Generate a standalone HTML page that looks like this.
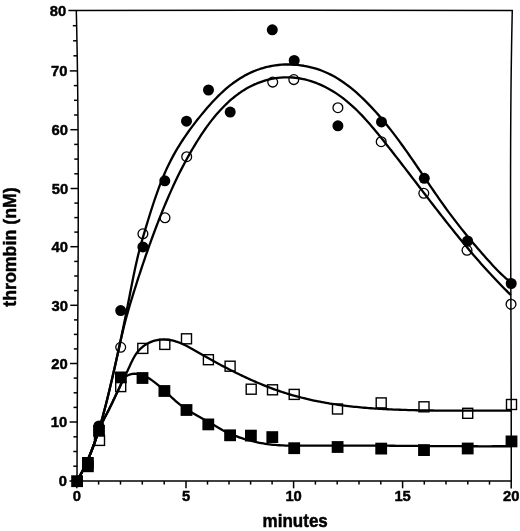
<!DOCTYPE html>
<html><head><meta charset="utf-8"><title>thrombin</title>
<style>html,body{margin:0;padding:0;background:#fff}body{width:520px;height:531px;overflow:hidden}svg{display:block;will-change:transform}text{font-family:"Liberation Sans",sans-serif;font-weight:bold;fill:#000}</style>
</head><body>
<svg width="520" height="531" viewBox="0 0 520 531">
<rect width="520" height="531" fill="#fff"/>
<g stroke="#000" stroke-width="1.5" fill="none" stroke-linecap="butt">
<path d="M68.4,10.5 L300,10.3 L512.9,10.6"/>
<path d="M512.30,9.90 L512.03,22.17 L511.79,34.44 L511.57,46.71 L511.38,58.98 L511.21,71.25 L511.06,83.52 L510.94,95.79 L510.84,108.06 L510.75,120.33 L510.69,132.61 L510.63,144.88 L510.60,157.15 L510.58,169.42 L510.57,181.69 L510.57,193.97 L510.58,206.24 L510.60,218.51 L510.63,230.78 L510.67,243.06 L510.71,255.33 L510.75,267.60 L510.79,279.87 L510.84,292.15 L510.89,304.42 L510.94,316.69 L510.98,328.96 L511.03,341.24 L511.07,353.51 L511.11,365.78 L511.15,378.05 L511.18,390.32 L511.20,402.60 L511.23,414.87 L511.24,427.14 L511.25,439.41 L511.25,451.68 L511.24,463.96 L511.23,476.23 L511.20,488.50"/>
<path d="M76.30,10.60 L76.58,22.68 L76.83,34.76 L77.06,46.83 L77.27,58.91 L77.45,70.99 L77.61,83.07 L77.75,95.15 L77.87,107.23 L77.98,119.31 L78.06,131.38 L78.13,143.46 L78.18,155.54 L78.22,167.62 L78.25,179.70 L78.26,191.78 L78.26,203.86 L78.24,215.94 L78.22,228.02 L78.19,240.10 L78.15,252.18 L78.10,264.26 L78.05,276.34 L77.99,288.42 L77.92,300.50 L77.85,312.58 L77.78,324.66 L77.71,336.74 L77.63,348.82 L77.56,360.90 L77.48,372.98 L77.41,385.06 L77.34,397.14 L77.27,409.22 L77.21,421.30 L77.15,433.38 L77.10,445.46 L77.06,457.54 L77.03,469.62 L77.00,481.70"/>
<path d="M69.5,481 L511.8,481"/>
<path d="M69.6,422.0 L77.2,422.0"/>
<path d="M70.0,363.5 L77.6,363.5"/>
<path d="M70.3,305.3 L77.9,305.3"/>
<path d="M70.4,246.7 L78.0,246.7"/>
<path d="M70.6,188.5 L78.2,188.5"/>
<path d="M70.4,129.7 L78.0,129.7"/>
<path d="M69.8,70.9 L77.4,70.9"/>
<path d="M73.3,466.2 L77.1,466.2"/>
<path d="M73.3,451.5 L77.1,451.5"/>
<path d="M73.4,436.8 L77.2,436.8"/>
<path d="M73.5,407.4 L77.3,407.4"/>
<path d="M73.6,392.8 L77.4,392.8"/>
<path d="M73.7,378.1 L77.5,378.1"/>
<path d="M73.9,348.9 L77.7,348.9"/>
<path d="M73.9,334.4 L77.7,334.4"/>
<path d="M74.0,319.9 L77.8,319.9"/>
<path d="M74.1,290.6 L77.9,290.6"/>
<path d="M74.2,276.0 L78.0,276.0"/>
<path d="M74.2,261.4 L78.0,261.4"/>
<path d="M74.3,232.1 L78.1,232.1"/>
<path d="M74.3,217.6 L78.1,217.6"/>
<path d="M74.4,203.1 L78.2,203.1"/>
<path d="M74.3,173.8 L78.1,173.8"/>
<path d="M74.3,159.1 L78.1,159.1"/>
<path d="M74.2,144.4 L78.0,144.4"/>
<path d="M74.1,115.0 L77.9,115.0"/>
<path d="M74.0,100.3 L77.8,100.3"/>
<path d="M73.8,85.6 L77.6,85.6"/>
<path d="M73.4,55.8 L77.2,55.8"/>
<path d="M73.1,40.8 L76.9,40.8"/>
<path d="M72.8,25.7 L76.6,25.7"/>
<path d="M76.8,481 L76.8,488.3"/>
<path d="M186.0,481 L186.0,488.3"/>
<path d="M293.6,481 L293.6,488.3"/>
<path d="M402.6,481 L402.6,488.3"/>
<path d="M98.6,481 L98.6,484.6"/>
<path d="M120.5,481 L120.5,484.6"/>
<path d="M142.3,481 L142.3,484.6"/>
<path d="M164.2,481 L164.2,484.6"/>
<path d="M207.5,481 L207.5,484.6"/>
<path d="M229.0,481 L229.0,484.6"/>
<path d="M250.6,481 L250.6,484.6"/>
<path d="M272.1,481 L272.1,484.6"/>
<path d="M315.4,481 L315.4,484.6"/>
<path d="M337.2,481 L337.2,484.6"/>
<path d="M359.0,481 L359.0,484.6"/>
<path d="M380.8,481 L380.8,484.6"/>
<path d="M424.3,481 L424.3,484.6"/>
<path d="M446.0,481 L446.0,484.6"/>
<path d="M467.8,481 L467.8,484.6"/>
<path d="M489.5,481 L489.5,484.6"/>
</g>
<g stroke="#000" stroke-width="2.3" fill="none" stroke-linejoin="round" stroke-linecap="butt">
<path d="M77.00,481.00 L78.59,478.27 L80.12,475.51 L81.61,472.74 L83.05,469.94 L84.44,467.12 L85.79,464.29 L87.10,461.43 L88.36,458.56 L89.59,455.67 L90.77,452.77 L91.92,449.85 L93.04,446.91 L94.12,443.97 L95.17,441.01 L96.19,438.03 L97.18,435.05 L98.15,432.05 L99.08,429.05 L99.99,426.03 L100.88,423.01 L101.75,419.98 L102.60,416.94 L103.43,413.90 L104.24,410.85 L105.04,407.79 L105.82,404.74 L106.59,401.68 L107.35,398.61 L108.10,395.55 L108.85,392.48 L109.58,389.42 L110.31,386.35 L111.04,383.28 L111.75,380.22 L112.47,377.15 L113.17,374.08 L113.87,371.01 L114.57,367.94 L115.26,364.88 L115.94,361.81 L116.62,358.74 L117.29,355.67 L117.96,352.59 L118.63,349.52 L119.29,346.45 L119.94,343.38 L120.59,340.30 L121.24,337.23 L121.89,334.15 L122.52,331.07 L123.16,328.00 L123.79,324.92 L124.42,321.84 L125.05,318.76 L125.67,315.68 L126.29,312.59 L126.90,309.51 L127.52,306.43 L128.13,303.34 L128.74,300.25 L129.34,297.16 L129.95,294.07 L130.55,290.98 L131.15,287.89 L131.76,284.80 L132.37,281.71 L132.99,278.62 L133.61,275.53 L134.25,272.45 L134.90,269.37 L135.57,266.29 L136.25,263.22 L136.95,260.16 L137.68,257.10 L138.42,254.04 L139.19,251.00 L139.99,247.96 L140.81,244.92 L141.64,241.90 L142.50,238.87 L143.37,235.85 L144.25,232.83 L145.15,229.82 L146.05,226.81 L146.97,223.80 L147.89,220.78 L148.82,217.77 L149.76,214.76 L150.70,211.75 L151.66,208.75 L152.63,205.74 L153.62,202.74 L154.62,199.75 L155.64,196.76 L156.68,193.78 L157.75,190.81 L158.83,187.85 L159.95,184.90 L161.09,181.96 L162.26,179.04 L163.46,176.14 L164.69,173.25 L165.96,170.38 L167.27,167.53 L168.62,164.70 L170.00,161.89 L171.43,159.11 L172.90,156.35 L174.41,153.62 L175.97,150.90 L177.56,148.21 L179.19,145.54 L180.85,142.89 L182.56,140.25 L184.29,137.64 L186.06,135.05 L187.87,132.47 L189.70,129.91 L191.57,127.37 L193.46,124.84 L195.38,122.33 L197.33,119.83 L199.31,117.35 L201.31,114.87 L203.34,112.42 L205.39,109.98 L207.47,107.56 L209.58,105.16 L211.72,102.80 L213.89,100.47 L216.09,98.18 L218.33,95.93 L220.60,93.72 L222.91,91.57 L225.26,89.47 L227.65,87.43 L230.08,85.45 L232.55,83.54 L235.07,81.70 L237.63,79.93 L240.24,78.24 L242.90,76.64 L245.60,75.12 L248.36,73.69 L251.17,72.36 L254.04,71.13 L256.95,70.00 L259.91,68.97 L262.91,68.05 L265.95,67.22 L269.02,66.50 L272.11,65.89 L275.24,65.39 L278.38,64.99 L281.53,64.70 L284.70,64.52 L287.87,64.46 L291.05,64.50 L294.22,64.65 L297.39,64.92 L300.54,65.29 L303.68,65.76 L306.81,66.35 L309.91,67.03 L312.98,67.82 L316.02,68.71 L319.03,69.69 L322.00,70.78 L324.93,71.96 L327.80,73.24 L330.63,74.61 L333.41,76.07 L336.13,77.61 L338.81,79.24 L341.44,80.94 L344.03,82.72 L346.57,84.56 L349.07,86.46 L351.53,88.42 L353.95,90.43 L356.33,92.49 L358.68,94.59 L360.99,96.74 L363.27,98.91 L365.51,101.12 L367.73,103.35 L369.91,105.60 L372.07,107.88 L374.20,110.19 L376.30,112.52 L378.38,114.87 L380.43,117.24 L382.46,119.63 L384.47,122.04 L386.45,124.46 L388.42,126.91 L390.36,129.37 L392.29,131.85 L394.20,134.34 L396.09,136.85 L397.97,139.37 L399.83,141.91 L401.68,144.45 L403.52,147.01 L405.35,149.57 L407.17,152.15 L408.97,154.73 L410.77,157.32 L412.56,159.91 L414.35,162.52 L416.13,165.12 L417.91,167.73 L419.68,170.34 L421.45,172.96 L423.22,175.58 L425.00,178.19 L426.77,180.81 L428.54,183.42 L430.32,186.04 L432.10,188.65 L433.89,191.25 L435.68,193.85 L437.48,196.45 L439.29,199.04 L441.10,201.62 L442.93,204.19 L444.77,206.76 L446.62,209.31 L448.49,211.86 L450.36,214.39 L452.26,216.91 L454.16,219.42 L456.08,221.92 L458.01,224.41 L459.95,226.89 L461.91,229.36 L463.88,231.81 L465.86,234.26 L467.85,236.70 L469.85,239.13 L471.86,241.54 L473.89,243.95 L475.93,246.34 L477.97,248.73 L480.03,251.11 L482.10,253.48 L484.17,255.83 L486.26,258.18 L488.36,260.52 L490.46,262.85 L492.58,265.17 L494.72,267.46 L496.89,269.73 L499.08,271.95 L501.32,274.14 L503.61,276.27 L505.94,278.35 L508.34,280.36 L510.80,282.30"/>
<path d="M76.98,481.01 L78.54,478.34 L80.05,475.64 L81.51,472.93 L82.93,470.19 L84.30,467.43 L85.62,464.65 L86.91,461.86 L88.16,459.04 L89.36,456.21 L90.53,453.37 L91.67,450.51 L92.77,447.63 L93.84,444.75 L94.87,441.85 L95.88,438.94 L96.86,436.02 L97.81,433.08 L98.73,430.15 L99.64,427.20 L100.52,424.24 L101.38,421.28 L102.21,418.32 L103.04,415.35 L103.84,412.38 L104.63,409.40 L105.40,406.42 L106.16,403.44 L106.91,400.45 L107.65,397.46 L108.38,394.47 L109.10,391.48 L109.81,388.48 L110.52,385.49 L111.22,382.49 L111.91,379.49 L112.60,376.48 L113.29,373.48 L113.98,370.48 L114.66,367.47 L115.33,364.47 L116.01,361.46 L116.68,358.46 L117.35,355.45 L118.01,352.44 L118.68,349.44 L119.34,346.44 L120.01,343.43 L120.68,340.43 L121.36,337.43 L122.05,334.44 L122.75,331.45 L123.47,328.46 L124.21,325.47 L124.97,322.49 L125.75,319.52 L126.55,316.55 L127.37,313.59 L128.21,310.63 L129.06,307.67 L129.94,304.72 L130.82,301.76 L131.72,298.82 L132.63,295.87 L133.55,292.92 L134.47,289.97 L135.40,287.03 L136.34,284.08 L137.28,281.14 L138.24,278.19 L139.19,275.25 L140.16,272.31 L141.13,269.37 L142.11,266.43 L143.10,263.50 L144.09,260.57 L145.09,257.64 L146.10,254.72 L147.12,251.80 L148.15,248.88 L149.18,245.97 L150.22,243.06 L151.27,240.16 L152.33,237.27 L153.39,234.38 L154.47,231.50 L155.55,228.62 L156.64,225.75 L157.75,222.89 L158.86,220.03 L159.97,217.18 L161.10,214.34 L162.24,211.51 L163.39,208.68 L164.55,205.86 L165.73,203.05 L166.92,200.25 L168.12,197.45 L169.33,194.66 L170.57,191.88 L171.81,189.11 L173.08,186.34 L174.36,183.58 L175.66,180.82 L176.98,178.07 L178.31,175.33 L179.67,172.60 L181.05,169.87 L182.45,167.15 L183.87,164.43 L185.32,161.72 L186.79,159.02 L188.28,156.32 L189.80,153.63 L191.34,150.94 L192.92,148.26 L194.51,145.59 L196.14,142.92 L197.79,140.26 L199.48,137.61 L201.19,134.98 L202.94,132.36 L204.72,129.77 L206.53,127.20 L208.38,124.66 L210.27,122.15 L212.19,119.67 L214.14,117.23 L216.14,114.83 L218.17,112.48 L220.25,110.17 L222.37,107.92 L224.53,105.72 L226.73,103.57 L228.98,101.48 L231.27,99.46 L233.61,97.51 L236.00,95.62 L238.43,93.81 L240.91,92.07 L243.45,90.41 L246.03,88.84 L248.67,87.35 L251.36,85.95 L254.10,84.65 L256.90,83.44 L259.74,82.32 L262.62,81.31 L265.53,80.41 L268.48,79.61 L271.46,78.93 L274.46,78.35 L277.49,77.90 L280.53,77.57 L283.58,77.36 L286.64,77.28 L289.70,77.33 L292.77,77.51 L295.83,77.82 L298.88,78.25 L301.92,78.80 L304.94,79.47 L307.94,80.25 L310.91,81.14 L313.86,82.12 L316.77,83.20 L319.64,84.38 L322.47,85.64 L325.26,86.99 L327.99,88.42 L330.67,89.92 L333.30,91.49 L335.88,93.13 L338.41,94.84 L340.89,96.61 L343.33,98.44 L345.72,100.33 L348.08,102.27 L350.39,104.27 L352.66,106.31 L354.90,108.40 L357.11,110.53 L359.28,112.70 L361.43,114.91 L363.54,117.15 L365.63,119.42 L367.70,121.73 L369.74,124.05 L371.77,126.41 L373.77,128.78 L375.76,131.16 L377.74,133.57 L379.70,135.98 L381.65,138.40 L383.59,140.83 L385.52,143.25 L387.45,145.69 L389.37,148.12 L391.29,150.56 L393.20,153.00 L395.11,155.44 L397.01,157.88 L398.90,160.32 L400.79,162.76 L402.68,165.21 L404.56,167.65 L406.44,170.10 L408.32,172.54 L410.20,174.99 L412.07,177.43 L413.94,179.88 L415.81,182.32 L417.68,184.77 L419.55,187.21 L421.42,189.65 L423.29,192.09 L425.16,194.53 L427.03,196.97 L428.90,199.40 L430.77,201.83 L432.64,204.26 L434.52,206.69 L436.40,209.11 L438.28,211.54 L440.16,213.95 L442.05,216.37 L443.94,218.78 L445.84,221.19 L447.74,223.59 L449.64,225.99 L451.55,228.39 L453.47,230.78 L455.39,233.16 L457.32,235.54 L459.25,237.92 L461.19,240.29 L463.14,242.65 L465.10,245.01 L467.06,247.36 L469.04,249.71 L471.02,252.05 L473.01,254.38 L475.01,256.70 L477.02,259.02 L479.04,261.34 L481.07,263.64 L483.11,265.94 L485.17,268.22 L487.23,270.51 L489.31,272.78 L491.39,275.04 L493.50,277.30 L495.61,279.54 L497.74,281.78 L499.88,284.01 L502.03,286.23 L504.20,288.44 L506.39,290.63 L508.58,292.82 L510.80,295.00"/>
<path d="M77.00,481.00 L78.04,479.22 L79.06,477.43 L80.06,475.63 L81.04,473.81 L82.00,471.99 L82.94,470.16 L83.86,468.31 L84.76,466.46 L85.64,464.60 L86.51,462.73 L87.35,460.85 L88.18,458.97 L89.00,457.07 L89.79,455.17 L90.57,453.27 L91.34,451.35 L92.09,449.43 L92.82,447.51 L93.54,445.58 L94.24,443.64 L94.93,441.70 L95.61,439.75 L96.26,437.80 L96.90,435.84 L97.54,433.88 L98.22,431.94 L98.94,430.02 L99.72,428.12 L100.54,426.24 L101.39,424.37 L102.28,422.52 L103.19,420.67 L104.12,418.84 L105.07,417.00 L106.02,415.17 L106.98,413.34 L107.93,411.50 L108.87,409.65 L109.80,407.80 L110.71,405.93 L111.61,404.06 L112.51,402.19 L113.40,400.32 L114.28,398.45 L115.16,396.58 L116.05,394.72 L116.93,392.87 L117.82,391.02 L118.70,389.19 L119.59,387.35 L120.48,385.53 L121.38,383.70 L122.27,381.87 L123.16,380.03 L124.04,378.20 L124.93,376.35 L125.81,374.49 L126.69,372.62 L127.57,370.74 L128.44,368.84 L129.31,366.93 L130.19,365.01 L131.07,363.09 L131.99,361.19 L132.94,359.31 L133.93,357.47 L134.98,355.68 L136.10,353.94 L137.29,352.28 L138.57,350.70 L139.94,349.21 L141.41,347.81 L142.96,346.52 L144.59,345.33 L146.30,344.24 L148.07,343.25 L149.90,342.38 L151.78,341.61 L153.71,340.96 L155.68,340.43 L157.68,340.01 L159.71,339.71 L161.76,339.53 L163.82,339.48 L165.89,339.55 L167.95,339.74 L170.02,340.04 L172.07,340.45 L174.12,340.95 L176.14,341.54 L178.15,342.21 L180.13,342.94 L182.07,343.74 L183.98,344.60 L185.85,345.49 L187.68,346.43 L189.48,347.40 L191.26,348.39 L193.02,349.40 L194.78,350.42 L196.54,351.43 L198.30,352.45 L200.06,353.46 L201.84,354.48 L203.61,355.49 L205.39,356.49 L207.18,357.50 L208.97,358.50 L210.76,359.50 L212.56,360.49 L214.36,361.48 L216.17,362.47 L217.98,363.45 L219.79,364.42 L221.61,365.39 L223.44,366.36 L225.27,367.32 L227.10,368.27 L228.94,369.22 L230.78,370.16 L232.63,371.09 L234.48,372.02 L236.33,372.93 L238.19,373.84 L240.06,374.75 L241.93,375.64 L243.80,376.53 L245.67,377.40 L247.55,378.27 L249.44,379.13 L251.33,379.98 L253.22,380.82 L255.12,381.64 L257.02,382.46 L258.92,383.27 L260.83,384.06 L262.74,384.85 L264.66,385.62 L266.58,386.38 L268.51,387.13 L270.44,387.86 L272.37,388.59 L274.30,389.30 L276.25,389.99 L278.19,390.68 L280.14,391.34 L282.09,392.00 L284.05,392.64 L286.01,393.26 L287.97,393.87 L289.94,394.47 L291.91,395.05 L293.88,395.61 L295.86,396.17 L297.84,396.70 L299.83,397.23 L301.82,397.74 L303.81,398.23 L305.80,398.71 L307.80,399.18 L309.80,399.64 L311.81,400.08 L313.81,400.51 L315.82,400.93 L317.84,401.34 L319.85,401.73 L321.87,402.11 L323.89,402.48 L325.91,402.84 L327.94,403.19 L329.96,403.53 L331.99,403.85 L334.03,404.17 L336.06,404.47 L338.10,404.77 L340.13,405.05 L342.17,405.33 L344.21,405.59 L346.26,405.85 L348.30,406.09 L350.35,406.33 L352.40,406.56 L354.45,406.77 L356.50,406.98 L358.55,407.19 L360.61,407.38 L362.66,407.57 L364.72,407.74 L366.77,407.91 L368.83,408.08 L370.89,408.23 L372.95,408.38 L375.01,408.53 L377.07,408.66 L379.14,408.79 L381.20,408.91 L383.26,409.03 L385.33,409.14 L387.39,409.25 L389.45,409.35 L391.52,409.44 L393.58,409.53 L395.65,409.62 L397.71,409.70 L399.78,409.77 L401.84,409.84 L403.91,409.91 L405.97,409.97 L408.03,410.03 L410.10,410.09 L412.16,410.14 L414.22,410.19 L416.28,410.24 L418.35,410.28 L420.41,410.32 L422.47,410.36 L424.52,410.40 L426.58,410.43 L428.64,410.46 L430.70,410.49 L432.76,410.52 L434.81,410.55 L436.87,410.57 L438.93,410.59 L440.98,410.61 L443.04,410.63 L445.09,410.64 L447.15,410.65 L449.21,410.67 L451.26,410.68 L453.32,410.69 L455.37,410.69 L457.43,410.70 L459.48,410.71 L461.54,410.71 L463.59,410.71 L465.65,410.72 L467.71,410.72 L469.76,410.72 L471.82,410.72 L473.88,410.72 L475.93,410.72 L477.99,410.72 L480.05,410.72 L482.11,410.71 L484.17,410.71 L486.23,410.71 L488.29,410.71 L490.35,410.70 L492.41,410.70 L494.47,410.70 L496.53,410.70 L498.60,410.70 L500.66,410.70 L502.73,410.70 L504.80,410.70 L506.86,410.70 L508.93,410.70 L511.00,410.70"/>
<path d="M77.00,481.00 L78.02,479.26 L79.02,477.51 L79.99,475.75 L80.95,473.98 L81.89,472.19 L82.81,470.40 L83.71,468.60 L84.60,466.79 L85.46,464.97 L86.31,463.14 L87.15,461.31 L87.96,459.47 L88.76,457.62 L89.55,455.76 L90.32,453.90 L91.08,452.03 L91.81,450.15 L92.54,448.27 L93.24,446.39 L93.93,444.50 L94.61,442.60 L95.27,440.69 L95.91,438.79 L96.55,436.87 L97.20,434.96 L97.85,433.06 L98.54,431.16 L99.25,429.28 L100.01,427.41 L100.82,425.57 L101.67,423.74 L102.55,421.93 L103.46,420.13 L104.38,418.34 L105.31,416.55 L106.25,414.76 L107.18,412.97 L108.10,411.18 L109.00,409.38 L109.90,407.58 L110.79,405.77 L111.66,403.96 L112.53,402.14 L113.40,400.32 L114.25,398.50 L115.11,396.67 L115.98,394.85 L116.85,393.03 L117.73,391.22 L118.62,389.42 L119.48,387.59 L120.26,385.71 L121.00,383.81 L121.78,381.94 L122.66,380.16 L123.72,378.52 L125.02,377.09 L126.63,375.91 L128.48,375.00 L130.46,374.34 L132.45,373.93 L134.43,373.76 L136.38,373.79 L138.32,374.02 L140.22,374.44 L142.11,375.01 L143.96,375.73 L145.78,376.57 L147.57,377.52 L149.33,378.57 L151.05,379.68 L152.73,380.86 L154.38,382.08 L155.99,383.32 L157.56,384.60 L159.11,385.90 L160.64,387.23 L162.14,388.57 L163.63,389.93 L165.11,391.29 L166.57,392.66 L168.04,394.04 L169.50,395.41 L170.96,396.77 L172.44,398.12 L173.92,399.46 L175.41,400.79 L176.93,402.09 L178.47,403.36 L180.03,404.61 L181.63,405.82 L183.25,407.00 L184.90,408.16 L186.57,409.28 L188.27,410.38 L189.98,411.46 L191.71,412.52 L193.46,413.56 L195.21,414.58 L196.98,415.59 L198.75,416.59 L200.52,417.59 L202.30,418.57 L204.08,419.56 L205.86,420.54 L207.63,421.52 L209.39,422.51 L211.15,423.50 L212.89,424.50 L214.62,425.51 L216.33,426.52 L218.04,427.54 L219.75,428.55 L221.47,429.54 L223.21,430.51 L224.99,431.43 L226.79,432.31 L228.62,433.15 L230.48,433.96 L232.35,434.73 L234.24,435.47 L236.14,436.19 L238.04,436.88 L239.95,437.54 L241.87,438.18 L243.79,438.80 L245.72,439.39 L247.65,439.95 L249.59,440.49 L251.53,441.00 L253.48,441.48 L255.43,441.94 L257.39,442.37 L259.36,442.77 L261.33,443.14 L263.30,443.48 L265.27,443.80 L267.26,444.08 L269.24,444.34 L271.23,444.57 L273.22,444.77 L275.22,444.95 L277.22,445.11 L279.22,445.24 L281.22,445.36 L283.23,445.45 L285.24,445.53 L287.25,445.59 L289.27,445.64 L291.28,445.68 L293.30,445.70 L295.32,445.71 L297.34,445.72 L299.36,445.72 L301.38,445.71 L303.40,445.70 L305.42,445.68 L307.44,445.67 L309.46,445.65 L311.48,445.63 L313.50,445.62 L315.53,445.61 L317.55,445.59 L319.57,445.58 L321.59,445.57 L323.61,445.57 L325.62,445.56 L327.64,445.55 L329.66,445.55 L331.68,445.54 L333.70,445.54 L335.72,445.54 L337.73,445.53 L339.75,445.53 L341.77,445.53 L343.79,445.54 L345.80,445.54 L347.82,445.54 L349.84,445.54 L351.85,445.55 L353.87,445.55 L355.88,445.56 L357.90,445.56 L359.91,445.57 L361.93,445.58 L363.94,445.59 L365.96,445.60 L367.97,445.61 L369.99,445.62 L372.00,445.63 L374.02,445.64 L376.03,445.65 L378.05,445.66 L380.06,445.67 L382.07,445.68 L384.09,445.70 L386.10,445.71 L388.12,445.72 L390.13,445.74 L392.14,445.75 L394.16,445.77 L396.17,445.78 L398.18,445.80 L400.20,445.81 L402.21,445.83 L404.22,445.84 L406.23,445.86 L408.25,445.87 L410.26,445.89 L412.27,445.90 L414.29,445.92 L416.30,445.94 L418.31,445.95 L420.32,445.97 L422.34,445.98 L424.35,446.00 L426.36,446.01 L428.38,446.03 L430.39,446.04 L432.40,446.06 L434.42,446.07 L436.43,446.08 L438.44,446.10 L440.45,446.11 L442.47,446.12 L444.48,446.14 L446.49,446.15 L448.51,446.16 L450.52,446.17 L452.54,446.18 L454.55,446.19 L456.56,446.20 L458.58,446.21 L460.59,446.22 L462.61,446.23 L464.62,446.24 L466.63,446.25 L468.65,446.25 L470.66,446.26 L472.68,446.26 L474.69,446.27 L476.71,446.27 L478.72,446.28 L480.74,446.28 L482.76,446.28 L484.77,446.28 L486.79,446.28 L488.80,446.28 L490.82,446.28 L492.84,446.27 L494.86,446.27 L496.87,446.26 L498.89,446.26 L500.91,446.25 L502.93,446.24 L504.94,446.23 L506.96,446.22 L508.98,446.21 L511.00,446.20"/>
</g>
<g fill="none" stroke="#000" stroke-width="1.4">
<rect x="94.50" y="435.40" width="10" height="10"/>
<rect x="115.70" y="381.60" width="10" height="10"/>
<rect x="137.80" y="343.40" width="10" height="10"/>
<rect x="159.80" y="339.40" width="10" height="10"/>
<rect x="181.50" y="333.80" width="10" height="10"/>
<rect x="203.40" y="354.70" width="10" height="10"/>
<rect x="225.10" y="361.20" width="10" height="10"/>
<rect x="246.20" y="384.20" width="10" height="10"/>
<rect x="267.50" y="384.80" width="10" height="10"/>
<rect x="289.20" y="389.40" width="10" height="10"/>
<rect x="332.50" y="404.00" width="10" height="10"/>
<rect x="376.20" y="397.90" width="10" height="10"/>
<rect x="419.00" y="401.80" width="10" height="10"/>
<rect x="462.70" y="408.30" width="10" height="10"/>
<rect x="506.50" y="399.50" width="10" height="10"/>
<circle cx="120.7" cy="347.3" r="4.9" stroke-width="1.3"/>
<circle cx="142.9" cy="233.8" r="4.9" stroke-width="1.3"/>
<circle cx="165.0" cy="217.8" r="4.9" stroke-width="1.3"/>
<circle cx="186.7" cy="156.7" r="4.9" stroke-width="1.3"/>
<circle cx="272.7" cy="82.1" r="4.9" stroke-width="1.3"/>
<circle cx="293.8" cy="79.6" r="4.9" stroke-width="1.3"/>
<circle cx="337.9" cy="107.7" r="4.9" stroke-width="1.3"/>
<circle cx="381.2" cy="141.7" r="4.9" stroke-width="1.3"/>
<circle cx="423.8" cy="193.3" r="4.9" stroke-width="1.3"/>
<circle cx="467.0" cy="250.3" r="4.9" stroke-width="1.3"/>
<circle cx="511.0" cy="304.2" r="4.9" stroke-width="1.3"/>
</g>
<g fill="#000" stroke="none">
<rect x="71.20" y="475.30" width="11.8" height="11.8"/>
<rect x="82.00" y="457.00" width="11.8" height="11.8"/>
<rect x="82.00" y="460.40" width="11.8" height="11.8"/>
<rect x="93.10" y="424.90" width="11.8" height="11.8"/>
<rect x="115.00" y="371.50" width="11.8" height="11.8"/>
<rect x="136.60" y="372.10" width="11.8" height="11.8"/>
<rect x="158.50" y="385.10" width="11.8" height="11.8"/>
<rect x="180.60" y="404.10" width="11.8" height="11.8"/>
<rect x="202.40" y="418.50" width="11.8" height="11.8"/>
<rect x="224.20" y="429.40" width="11.8" height="11.8"/>
<rect x="245.00" y="429.70" width="11.8" height="11.8"/>
<rect x="266.40" y="431.20" width="11.8" height="11.8"/>
<rect x="288.30" y="442.30" width="11.8" height="11.8"/>
<rect x="331.70" y="441.10" width="11.8" height="11.8"/>
<rect x="375.30" y="442.70" width="11.8" height="11.8"/>
<rect x="418.10" y="444.20" width="11.8" height="11.8"/>
<rect x="461.80" y="442.60" width="11.8" height="11.8"/>
<rect x="505.60" y="435.50" width="11.8" height="11.8"/>
<circle cx="98.9" cy="425.9" r="5.5"/>
<circle cx="120.7" cy="310.6" r="5.5"/>
<circle cx="142.9" cy="246.9" r="5.5"/>
<circle cx="164.8" cy="180.8" r="5.5"/>
<circle cx="186.5" cy="121.2" r="5.5"/>
<circle cx="208.5" cy="90.0" r="5.5"/>
<circle cx="230.2" cy="112.1" r="5.5"/>
<circle cx="272.3" cy="29.8" r="5.5"/>
<circle cx="294.2" cy="60.4" r="5.5"/>
<circle cx="337.9" cy="125.8" r="5.5"/>
<circle cx="381.5" cy="121.9" r="5.5"/>
<circle cx="424.3" cy="178.3" r="5.5"/>
<circle cx="467.6" cy="241.0" r="5.5"/>
<circle cx="511.2" cy="283.5" r="5.5"/>
</g>
<g font-size="14.8px" stroke="#000" stroke-width="0.45">
<text transform="translate(67.0,486.2) scale(1,1.050)" text-anchor="end">0</text>
<text transform="translate(67.2,427.2) scale(1,1.050)" text-anchor="end">10</text>
<text transform="translate(67.6,368.7) scale(1,1.050)" text-anchor="end">20</text>
<text transform="translate(67.9,310.5) scale(1,1.050)" text-anchor="end">30</text>
<text transform="translate(68.0,251.9) scale(1,1.050)" text-anchor="end">40</text>
<text transform="translate(68.2,193.7) scale(1,1.050)" text-anchor="end">50</text>
<text transform="translate(68.0,134.9) scale(1,1.050)" text-anchor="end">60</text>
<text transform="translate(67.4,76.1) scale(1,1.050)" text-anchor="end">70</text>
<text transform="translate(66.3,15.8) scale(1,1.050)" text-anchor="end">80</text>
<text transform="translate(76.8,501.3) scale(1,1.050)" text-anchor="middle">0</text>
<text transform="translate(186.0,501.3) scale(1,1.050)" text-anchor="middle">5</text>
<text transform="translate(293.6,501.3) scale(1,1.050)" text-anchor="middle">10</text>
<text transform="translate(402.6,501.3) scale(1,1.050)" text-anchor="middle">15</text>
<text transform="translate(511.2,501.3) scale(1,1.050)" text-anchor="middle">20</text>
</g>
<text transform="translate(295.2,526.6) scale(1,1.08)" font-size="17px" text-anchor="middle" stroke="#000" stroke-width="0.45">minutes</text>
<text transform="translate(15.6,247) rotate(-90)" font-size="17.8px" text-anchor="middle" stroke="#000" stroke-width="0.45">thrombin (nM)</text>
</svg>
</body></html>
